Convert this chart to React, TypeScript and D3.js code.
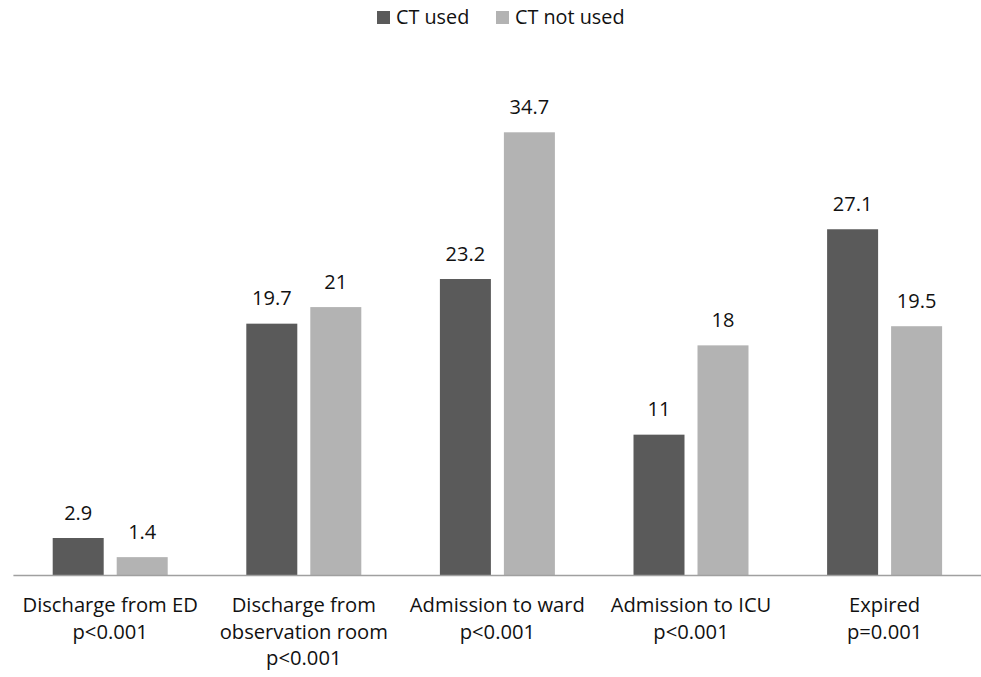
import React from "react";
import * as d3 from "d3";

const categories = [
  ["Discharge from ED", "p<0.001"],
  ["Discharge from", "observation room", "p<0.001"],
  ["Admission to ward", "p<0.001"],
  ["Admission to ICU", "p<0.001"],
  ["Expired", "p=0.001"],
];
const seriesNames = ["CT used", "CT not used"];
const ctUsed = [2.9, 19.7, 23.2, 11, 27.1];
const ctNotUsed = [1.4, 21, 34.7, 18, 19.5];
const colors = ["#5a5a5a", "#b3b3b3"];

const W = 981;
const H = 677;
const FONT = "'Open Sans', 'Noto Sans', sans-serif";

export default function App() {
  const baseY = 575;
  const x0 = d3
    .scaleBand<number>()
    .domain(categories.map((_, i) => i))
    .range([13.4, 981.4])
    .paddingInner(0)
    .paddingOuter(0);
  const groupW = 115;
  const x1 = d3
    .scaleBand<number>()
    .domain([0, 1])
    .range([0, groupW])
    .paddingInner(13 / 64);
  const y = d3.scaleLinear().domain([0, 34.7]).range([baseY, 132.3]);
  const series = [ctUsed, ctNotUsed];

  return (
    <svg
      width={W}
      height={H}
      style={{ position: "absolute", left: 0, top: 0, background: "#fff" }}
      fontFamily={FONT}
    >
      <rect x={0} y={0} width={W} height={H} fill="#fff" />
      {/* legend */}
      {seriesNames.map((name, i) => {
        const lx = [377, 496][i];
        return (
          <g key={name}>
            <rect x={lx} y={11} width={13} height={13} fill={colors[i]} />
            <text x={lx + 19} y={24} fontSize={19.8} fill="#111">
              {name}
            </text>
          </g>
        );
      })}
      {/* bars and value labels */}
      {categories.map((_, ci) => {
        const gx = x0(ci)! + (x0.bandwidth() - groupW) / 2;
        return (
          <g key={ci} transform={`translate(${gx},0)`}>
            {series.map((vals, si) => {
              const v = vals[ci];
              const bx = x1(si)!;
              const bw = x1.bandwidth();
              return (
                <g key={si}>
                  <rect x={bx} y={y(v)} width={bw} height={baseY - y(v)} fill={colors[si]} />
                  <text
                    x={bx + bw / 2}
                    y={y(v) - 18.5}
                    textAnchor="middle"
                    fontSize={20}
                    fill="#111"
                  >
                    {String(v)}
                  </text>
                </g>
              );
            })}
          </g>
        );
      })}
      {/* axis line */}
      <line x1={13.4} x2={981} y1={baseY + 0.5} y2={baseY + 0.5} stroke="#a0a0a0" strokeWidth={1.5} />
      {/* category labels */}
      {categories.map((lines, ci) => {
        const cx = x0(ci)! + x0.bandwidth() / 2;
        return (
          <text key={ci} textAnchor="middle" fontSize={20.2} fill="#111">
            {lines.map((ln, li) => (
              <tspan key={li} x={cx} y={612 + li * 26.5}>
                {ln}
              </tspan>
            ))}
          </text>
        );
      })}
    </svg>
  );
}
